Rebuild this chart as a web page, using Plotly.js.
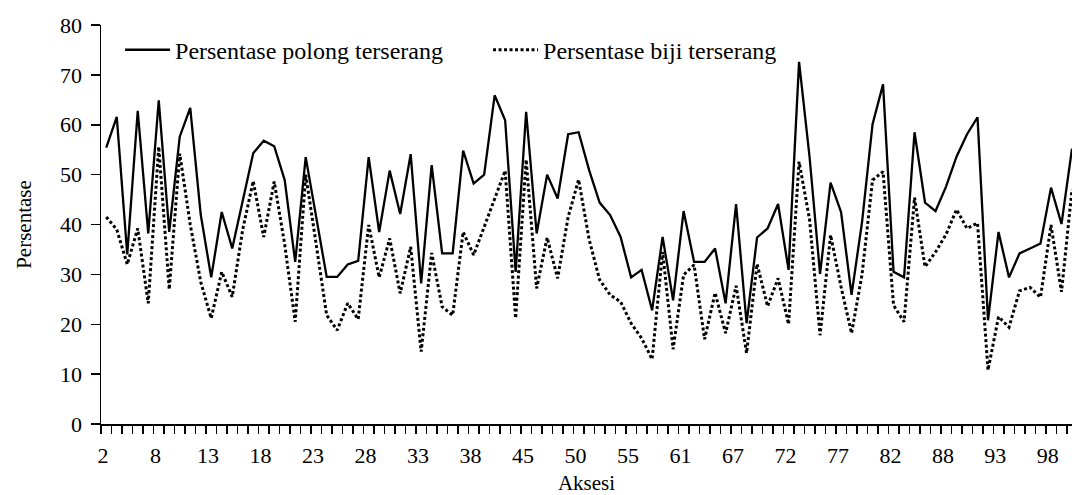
<!DOCTYPE html>
<html>
<head>
<meta charset="utf-8">
<script src="https://cdn.plot.ly/plotly-3.0.1.min.js"></script>
<style>
  html, body { margin: 0; padding: 0; background: #fff; }
  #chart { width: 1072px; height: 495px; }
</style>
</head>
<body>
<div id="chart"></div>
<script>
// Persentase polong terserang (solid line)
const polong = [
  55.4, 61.6, 34.0, 62.8, 38.2, 64.9, 38.5, 57.6, 63.4, 42.0,
  29.4, 42.5, 35.2, 45.0, 54.3, 56.8, 55.7, 48.9, 32.5, 53.5,
  41.5, 29.5, 29.5, 32.0, 32.7, 53.5, 38.5, 50.8, 42.1, 54.1,
  28.2, 51.9, 34.2, 34.2, 54.8, 48.2, 50.0, 65.9, 60.9, 30.5,
  62.6, 38.2, 50.0, 45.2, 58.1, 58.5, 50.9, 44.4, 41.9, 37.5,
  29.4, 30.9, 22.8, 37.5, 24.8, 42.7, 32.5, 32.5, 35.2, 24.2,
  44.1, 20.2, 37.4, 39.2, 44.1, 30.9, 72.6, 53.5, 30.1, 48.4,
  42.5, 25.9, 40.5, 60.1, 68.1, 30.5, 29.4, 58.5, 44.4, 42.7,
  47.6, 53.6, 58.1, 61.5, 20.8, 38.5, 29.4, 34.2, 35.2, 36.2,
  47.4, 40.1, 55.2
];
// Persentase biji terserang (dotted line)
const biji = [
  41.5, 39.0, 32.0, 39.2, 24.2, 55.6, 27.0, 54.2, 40.0, 28.5,
  21.2, 30.5, 25.5, 39.0, 48.7, 37.5, 48.6, 36.0, 20.5, 50.0,
  36.0, 21.8, 18.8, 24.2, 21.0, 39.9, 29.4, 37.2, 26.2, 35.5,
  14.5, 34.3, 23.5, 21.8, 38.5, 33.9, 39.5, 45.0, 50.8, 21.2,
  53.0, 27.2, 37.4, 29.2, 41.5, 49.0, 37.0, 28.9, 25.9, 24.5,
  20.2, 17.2, 13.0, 34.5, 15.0, 29.9, 31.9, 17.0, 26.3, 18.2,
  27.7, 14.2, 32.1, 23.6, 29.2, 20.0, 52.6, 41.0, 17.8, 37.9,
  27.5, 18.2, 30.0, 48.9, 50.6, 23.8, 20.5, 45.4, 31.5, 34.5,
  38.0, 43.0, 39.2, 40.3, 10.8, 21.5, 19.4, 26.7, 27.4, 25.4,
  39.9, 26.5, 47.0
];
// Aksesi tick labels (every 5th accession shown)
const aksesiLabels = ['2','8','13','18','23','28','33','38','45','50','55','61','67','72','77','82','88','93','98'];
const seriesNames = ['Persentase polong terserang', 'Persentase biji terserang'];

const xs = polong.map((_, i) => i);
const labelPos = aksesiLabels.map((_, k) => k * 5 - 0.3);
const boundaryTicks = [];
for (let i = 0; i <= polong.length - 1; i++) boundaryTicks.push(i - 0.5);

const FONT = '"Liberation Serif", "Times New Roman", Times, serif';

const traces = [
  {
    x: xs, y: polong, type: 'scatter', mode: 'lines',
    name: seriesNames[0],
    line: { color: '#000', width: 2.3 },
    legend: 'legend'
  },
  {
    x: xs, y: biji, type: 'scatter', mode: 'lines',
    name: seriesNames[1],
    line: { color: '#000', width: 3, dash: '3px,2.5px' },
    legend: 'legend2'
  }
];

const layout = {
  width: 1072, height: 495,
  margin: { l: 101, r: 0, t: 25, b: 71 },
  paper_bgcolor: '#fff', plot_bgcolor: '#fff',
  font: { family: FONT, size: 22, color: '#000' },
  showlegend: true,
  legend: {
    x: 0.0196, xanchor: 'left', y: 0.937, yanchor: 'middle',
    orientation: 'h', bgcolor: 'rgba(0,0,0,0)', borderwidth: 0,
    font: { family: FONT, size: 24, color: '#000' },
    itemwidth: 45
  },
  legend2: {
    x: 0.3986, xanchor: 'left', y: 0.937, yanchor: 'middle',
    orientation: 'h', bgcolor: 'rgba(0,0,0,0)', borderwidth: 0,
    font: { family: FONT, size: 24, color: '#000' },
    itemwidth: 45
  },
  xaxis: {
    range: [-0.5, polong.length - 1],
    tickmode: 'array', tickvals: labelPos, ticktext: aksesiLabels,
    ticks: '', showgrid: false, zeroline: false,
    showline: true, linecolor: '#000', linewidth: 1.5,
    tickfont: { family: FONT, size: 22, color: '#000' },
    ticklabelstandoff: 11,
    minor: {
      tickmode: 'array', tickvals: boundaryTicks,
      ticks: 'outside', ticklen: 8, tickwidth: 1.5, tickcolor: '#000',
      showgrid: false
    },
    title: { text: 'Aksesi', font: { family: FONT, size: 21, color: '#000' }, standoff: 12 }
  },
  yaxis: {
    range: [0, 80], dtick: 10, tick0: 0,
    ticks: 'outside', ticklen: 9, tickwidth: 1.5, tickcolor: '#000',
    showgrid: false, zeroline: false,
    showline: true, linecolor: '#000', linewidth: 1.5,
    tickfont: { family: FONT, size: 22, color: '#000' },
    ticklabelstandoff: 4,
    title: { text: 'Persentase', font: { family: FONT, size: 21, color: '#000' }, standoff: 22 }
  }
};

Plotly.newPlot('chart', traces, layout, { displayModeBar: false, staticPlot: true });
</script>
</body>
</html>
